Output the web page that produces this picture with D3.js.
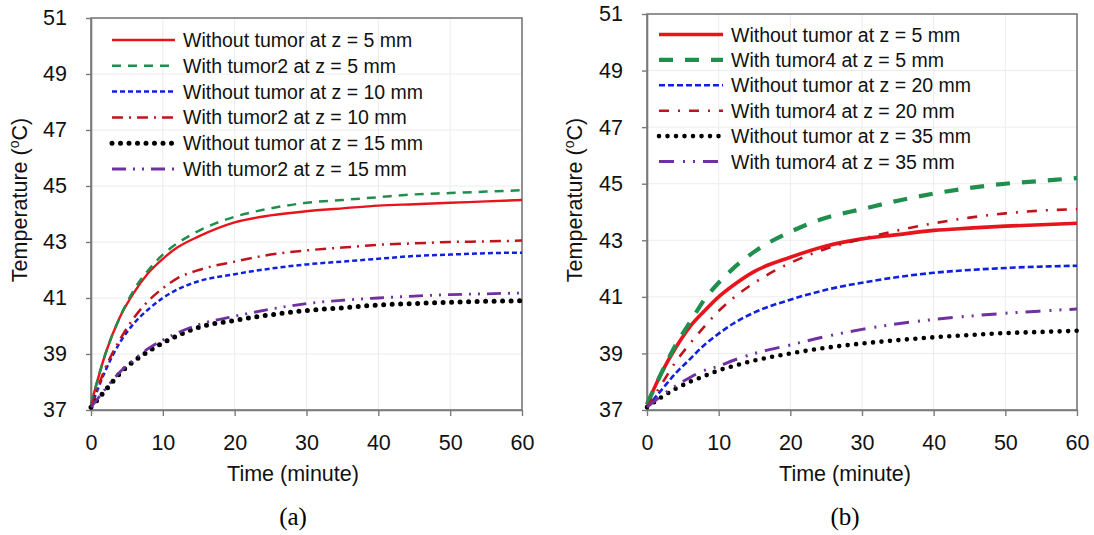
<!DOCTYPE html>
<html><head><meta charset="utf-8">
<script src="https://cdn.jsdelivr.net/npm/d3@7"></script>
<style>body{margin:0;background:#fff}svg{display:block}</style>
</head><body>
<svg id="c" width="1094" height="535"></svg>
<script>
const time = [0,2,4,6,8,10,12,15,20,25,30,35,40,45,50,55,60];
const xTicks = [0,10,20,30,40,50,60];
const yTicks = [37,39,41,43,45,47,49,51];

// Panel (a)
const namesA = ["Without tumor at z = 5 mm","With tumor2 at z = 5 mm","Without tumor at z = 10 mm","With tumor2 at z = 10 mm","Without tumor at z = 15 mm","With tumor2 at z = 15 mm"];
const a_noTumor5  = [37.2,39.0,40.3,41.2,41.9,42.4,42.8,43.2,43.7,43.95,44.1,44.2,44.3,44.35,44.4,44.45,44.5];
const a_tumor5    = [37.2,39.0,40.3,41.3,42.0,42.55,42.95,43.4,43.9,44.2,44.4,44.5,44.6,44.7,44.75,44.8,44.85];
const a_noTumor10 = [37.1,38.4,39.4,40.1,40.6,41.0,41.3,41.6,41.85,42.05,42.2,42.3,42.4,42.5,42.55,42.6,42.62];
const a_tumor10   = [37.1,38.5,39.5,40.3,40.9,41.35,41.7,42.0,42.3,42.55,42.7,42.8,42.9,42.95,43.0,43.02,43.05];
const a_noTumor15 = [37.1,37.7,38.3,38.75,39.1,39.4,39.65,39.95,40.2,40.4,40.55,40.65,40.75,40.8,40.85,40.88,40.9];
const a_tumor15   = [37.1,37.75,38.35,38.8,39.2,39.5,39.75,40.05,40.35,40.6,40.8,40.92,41.0,41.07,41.12,41.15,41.18];

// Panel (b)
const namesB = ["Without tumor at z = 5 mm","With tumor4 at z = 5 mm","Without tumor at z = 20 mm","With tumor4 at z = 20 mm","Without tumor at z = 35 mm","With tumor4 at z = 35 mm"];
const b_noTumor5  = [37.2,38.3,39.2,39.95,40.5,41.0,41.4,41.9,42.4,42.8,43.05,43.2,43.35,43.43,43.5,43.55,43.6];
const b_tumor5    = [37.2,38.3,39.3,40.1,40.9,41.5,42.0,42.6,43.3,43.8,44.1,44.4,44.65,44.85,45.0,45.1,45.2];
const b_noTumor20 = [37.1,37.7,38.3,38.8,39.3,39.7,40.05,40.45,40.9,41.25,41.5,41.7,41.85,41.95,42.02,42.07,42.1];
const b_tumor20   = [37.1,37.9,38.7,39.35,39.95,40.5,40.95,41.5,42.2,42.7,43.05,43.35,43.6,43.8,43.95,44.05,44.1];
const b_noTumor35 = [37.1,37.45,37.75,38.0,38.2,38.4,38.55,38.75,39.0,39.2,39.35,39.47,39.57,39.65,39.72,39.76,39.8];
const b_tumor35   = [37.1,37.5,37.85,38.15,38.4,38.55,38.75,39.0,39.3,39.6,39.85,40.05,40.2,40.32,40.42,40.5,40.57];

const colors = ["#e8141c","#1f8f4e","#1020e0","#c0141c","#000000","#7030a0"];

const svg = d3.select("#c");
svg.append("rect").attr("width",1094).attr("height",535).attr("fill","#fff");

function panel(opt){
  const g = svg.append("g");
  const x = d3.scaleLinear().domain([0,60]).range([opt.x0,opt.x1]);
  const y = d3.scaleLinear().domain([37,51]).range([opt.y0,opt.y1]);
  // grid
  g.selectAll(".hg").data(yTicks.slice(1)).join("line")
    .attr("x1",opt.x0).attr("x2",opt.x1).attr("y1",d=>y(d)).attr("y2",d=>y(d))
    .attr("stroke","#ececec").attr("stroke-width",1);
  g.selectAll(".vg").data(xTicks.slice(1)).join("line")
    .attr("y1",opt.y0).attr("y2",opt.y1).attr("x1",d=>x(d)).attr("x2",d=>x(d))
    .attr("stroke","#ececec").attr("stroke-width",1);
  // frame
  g.append("rect").attr("x",opt.x0).attr("y",opt.y1).attr("width",opt.x1-opt.x0).attr("height",opt.y0-opt.y1)
    .attr("fill","none").attr("stroke","#7a7a7a").attr("stroke-width",1.6);
  // axes
  const xa = g.append("g").attr("transform",`translate(0,${opt.y0})`)
    .call(d3.axisBottom(x).tickValues(xTicks).tickSize(6).tickPadding(19).tickSizeOuter(0));
  const ya = g.append("g").attr("transform",`translate(${opt.x0},0)`)
    .call(d3.axisLeft(y).tickValues(yTicks).tickSize(5).tickPadding(19).tickSizeOuter(0));
  [xa,ya].forEach(a=>{
    a.select(".domain").attr("stroke","#7a7a7a").attr("stroke-width",1.6);
    a.selectAll(".tick line").attr("stroke","#7a7a7a").attr("stroke-width",1.4);
    a.selectAll("text").attr("font-family","Liberation Sans, Arial, sans-serif").attr("font-size",21.5).attr("fill","#111");
  });
  // titles
  g.append("text").attr("x",opt.xTitleX).attr("y",481).attr("text-anchor","middle")
    .attr("font-family","Liberation Sans, Arial, sans-serif").attr("font-size",21.5).attr("fill","#111").text("Time (minute)");
  const yt = g.append("text").attr("transform",`translate(${opt.yTitleX},${opt.yTitleY}) rotate(-90)`).attr("text-anchor","middle")
    .attr("font-family","Liberation Sans, Arial, sans-serif").attr("font-size",21.5).attr("fill","#111");
  yt.append("tspan").text("Temperature (");
  yt.append("tspan").attr("font-size",14).attr("dy",-8).text("o");
  yt.append("tspan").attr("dy",8).text("C)");
  g.append("text").attr("x",opt.xTitleX).attr("y",525).attr("text-anchor","middle")
    .attr("font-family","Liberation Serif, Times New Roman, serif").attr("font-size",25).attr("fill","#000").text(opt.label);
  // lines
  const line = d3.line().x((d,i)=>x(time[i])).y(d=>y(d)).curve(d3.curveMonotoneX);
  opt.series.forEach((s,i)=>{
    const st = opt.styles[i];
    g.append("path").attr("d",line(s)).attr("fill","none").attr("stroke",colors[i])
      .attr("stroke-width",st.w).attr("stroke-dasharray",st.dash)
      .attr("stroke-linecap",st.cap||"butt");
  });
  // legend
  opt.names.forEach((n,i)=>{
    const st = opt.styles[i];
    const yy = opt.legY + i*opt.legDy;
    g.append("line").attr("x1",opt.legX).attr("x2",opt.legX+opt.legLen).attr("y1",yy).attr("y2",yy)
      .attr("stroke",colors[i]).attr("stroke-width",st.w).attr("stroke-dasharray",st.dash)
      .attr("stroke-linecap",st.cap||"butt");
    g.append("text").attr("x",opt.legX+opt.legLen+8).attr("y",yy+7)
      .attr("font-family","Liberation Sans, Arial, sans-serif").attr("font-size",19.5).attr("fill","#111").text(n);
  });
}

panel({x0:91,x1:522,y0:410,y1:18,xTitleX:293,yTitleX:27,yTitleY:200,label:"(a)",
  series:[a_noTumor5,a_tumor5,a_noTumor10,a_tumor10,a_noTumor15,a_tumor15],names:namesA,
  legX:112,legLen:63,legY:40,legDy:25.8,
  styles:[{w:2.4,dash:null},{w:2.5,dash:"9,7"},{w:2.5,dash:"5,3"},{w:2.5,dash:"11,6,2,6"},{w:5,dash:"0,8.5",cap:"round"},{w:2.8,dash:"14,7,2,7,2,7"}]});

panel({x0:647,x1:1077,y0:410,y1:14,xTitleX:845,yTitleX:582,yTitleY:200,label:"(b)",
  series:[b_noTumor5,b_tumor5,b_noTumor20,b_tumor20,b_noTumor35,b_tumor35],names:namesB,
  legX:659,legLen:64,legY:34.5,legDy:25.4,
  styles:[{w:3.6,dash:null},{w:4.2,dash:"14,12"},{w:2.6,dash:"6,3"},{w:2.6,dash:"10,9,2,9"},{w:4.6,dash:"0,8.5",cap:"round"},{w:3,dash:"15,9,2,8,2,8"}]});
</script>
</body></html>
